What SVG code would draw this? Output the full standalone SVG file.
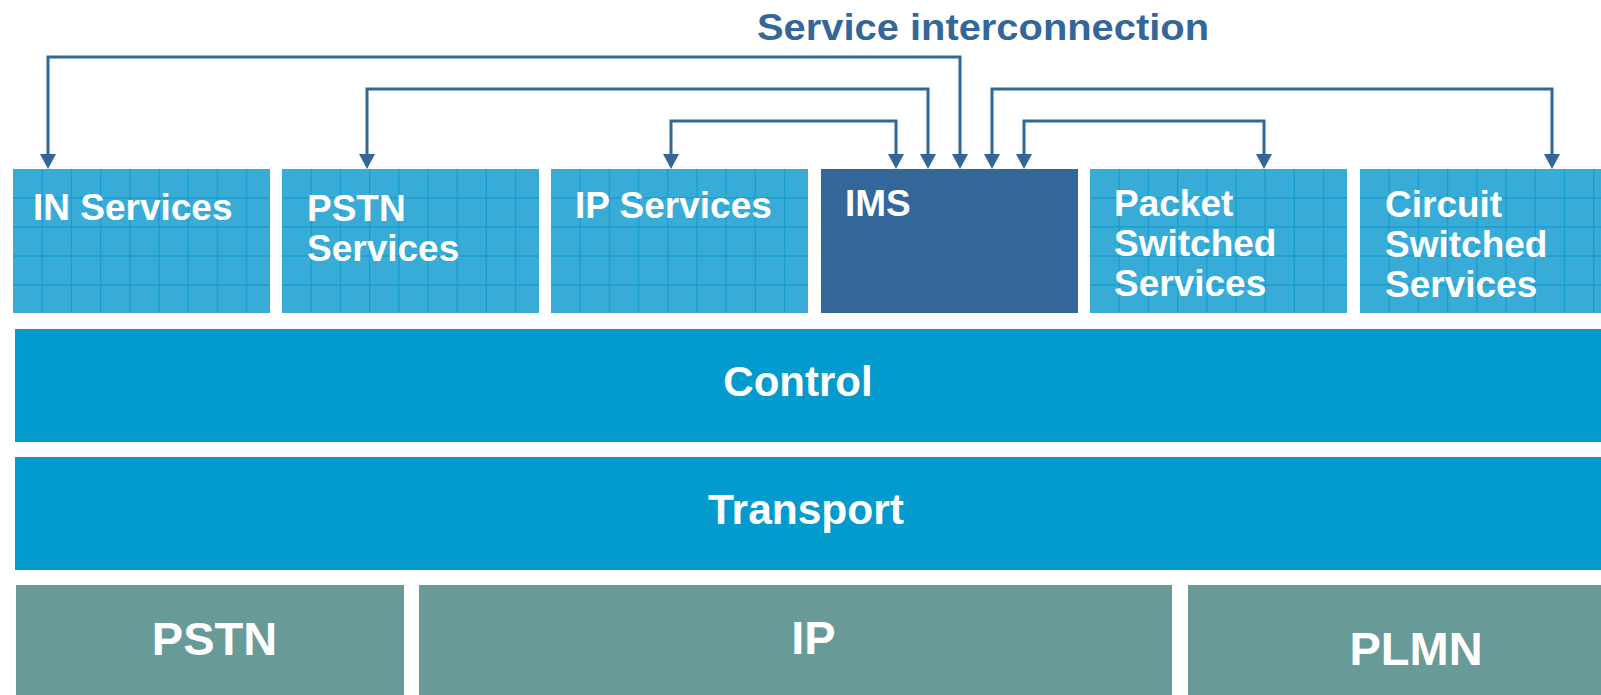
<svg xmlns="http://www.w3.org/2000/svg" xmlns:xlink="http://www.w3.org/1999/xlink" width="1601" height="695" viewBox="0 0 1601 695">
<style>
  .svc { fill: #38acd7; }
  .ims { fill: #336699; }
  .bar { fill: #039bce; }
  .net { fill: #689a98; }
  .grid line { stroke: #1a9ed0; stroke-width: 1.3; }
  .lbl { font-family: "Liberation Sans", Arial, sans-serif; font-weight: bold; fill: #ffffff; }
  .conn { fill: none; stroke: #336699; stroke-width: 3; }
  .title { font-family: "Liberation Sans", Arial, sans-serif; font-weight: bold; fill: #336699; font-size: 37px; }
</style>
<defs>
  <marker id="arr" markerUnits="userSpaceOnUse" markerWidth="15" markerHeight="16" refX="0" refY="8" orient="auto-start-reverse">
    <path d="M0,0 L15,8 L0,16 z" fill="#336699"/>
  </marker>
  <g id="grid" class="grid">
    <line x1="29.2" y1="0" x2="29.2" y2="144"/>
    <line x1="58.4" y1="0" x2="58.4" y2="144"/>
    <line x1="87.6" y1="0" x2="87.6" y2="144"/>
    <line x1="116.8" y1="0" x2="116.8" y2="144"/>
    <line x1="146" y1="0" x2="146" y2="144"/>
    <line x1="175.2" y1="0" x2="175.2" y2="144"/>
    <line x1="204.4" y1="0" x2="204.4" y2="144"/>
    <line x1="233.6" y1="0" x2="233.6" y2="144"/>
    <line x1="0" y1="29" x2="257" y2="29"/>
    <line x1="0" y1="58" x2="257" y2="58"/>
    <line x1="0" y1="87" x2="257" y2="87"/>
    <line x1="0" y1="116" x2="257" y2="116"/>
  </g>
  <clipPath id="cpLast"><rect x="1360" y="169" width="241" height="144"/></clipPath>
</defs>

<text class="title" x="983" y="40" text-anchor="middle" textLength="452" lengthAdjust="spacingAndGlyphs">Service interconnection</text>

<g id="connectors">
  <path class="conn" d="M48,154 V57 H960 V154" marker-start="url(#arr)" marker-end="url(#arr)"/>
  <path class="conn" d="M367,154 V89 H928 V154" marker-start="url(#arr)" marker-end="url(#arr)"/>
  <path class="conn" d="M671,154 V121 H896 V154" marker-start="url(#arr)" marker-end="url(#arr)"/>
  <path class="conn" d="M992,154 V89 H1552 V154" marker-start="url(#arr)" marker-end="url(#arr)"/>
  <path class="conn" d="M1024,154 V121 H1264 V154" marker-start="url(#arr)" marker-end="url(#arr)"/>
</g>

<g id="in-services">
  <rect class="svc" x="13" y="169" width="257" height="144"/>
  <use xlink:href="#grid" x="13" y="169"/>
  <text class="lbl" x="33" y="220" font-size="37">IN Services</text>
</g>
<g id="pstn-services">
  <rect class="svc" x="282" y="169" width="257" height="144"/>
  <use xlink:href="#grid" x="282" y="169"/>
  <text class="lbl" x="307" y="221" font-size="37">PSTN</text>
  <text class="lbl" x="307" y="261" font-size="37">Services</text>
</g>
<g id="ip-services">
  <rect class="svc" x="551" y="169" width="257" height="144"/>
  <use xlink:href="#grid" x="551" y="169"/>
  <text class="lbl" x="575" y="218" font-size="37">IP Services</text>
</g>
<g id="ims">
  <rect class="ims" x="821" y="169" width="257" height="144"/>
  <text class="lbl" x="845" y="216" font-size="37">IMS</text>
</g>
<g id="packet-switched-services">
  <rect class="svc" x="1090" y="169" width="257" height="144"/>
  <use xlink:href="#grid" x="1090" y="169"/>
  <text class="lbl" x="1114" y="216" font-size="37">Packet</text>
  <text class="lbl" x="1114" y="256" font-size="37">Switched</text>
  <text class="lbl" x="1114" y="296" font-size="37">Services</text>
</g>
<g id="circuit-switched-services">
  <rect class="svc" x="1360" y="169" width="241" height="144"/>
  <g clip-path="url(#cpLast)"><use xlink:href="#grid" x="1360" y="169"/></g>
  <text class="lbl" x="1385" y="217" font-size="37">Circuit</text>
  <text class="lbl" x="1385" y="257" font-size="37">Switched</text>
  <text class="lbl" x="1385" y="297" font-size="37">Services</text>
</g>

<g id="control">
  <rect class="bar" x="15" y="329" width="1586" height="113"/>
  <text class="lbl" x="798" y="396" font-size="42" text-anchor="middle">Control</text>
</g>
<g id="transport">
  <rect class="bar" x="15" y="457" width="1586" height="113"/>
  <text class="lbl" x="806" y="524" font-size="42.5" text-anchor="middle">Transport</text>
</g>

<g id="pstn">
  <rect class="net" x="16" y="585" width="388" height="110"/>
  <text class="lbl" x="214.5" y="655" font-size="47" text-anchor="middle">PSTN</text>
</g>
<g id="ip">
  <rect class="net" x="419" y="585" width="753" height="110"/>
  <text class="lbl" x="813.5" y="654" font-size="47" text-anchor="middle">IP</text>
</g>
<g id="plmn">
  <rect class="net" x="1188" y="585" width="413" height="110"/>
  <text class="lbl" x="1416" y="665" font-size="47" text-anchor="middle">PLMN</text>
</g>
</svg>
